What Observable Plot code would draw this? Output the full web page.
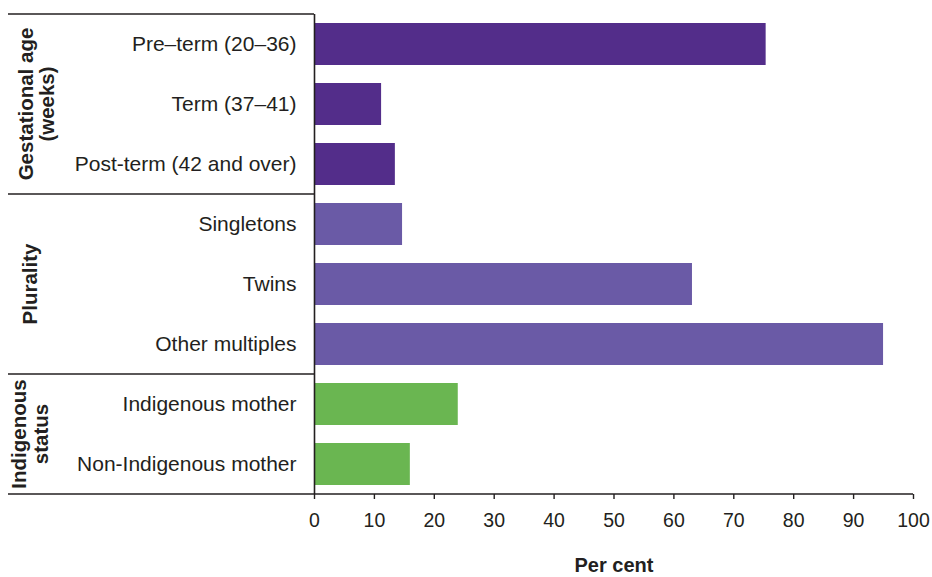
<!DOCTYPE html>
<html>
<head>
<meta charset="utf-8">
<script src="https://cdn.jsdelivr.net/npm/d3@7"></script>
<script src="https://cdn.jsdelivr.net/npm/@observablehq/plot@0.6"></script>
<style>
  html, body { margin: 0; padding: 0; background: #ffffff; }
  #chart svg { display: block; }
</style>
</head>
<body>
<div id="chart"></div>
<script>
// ---- Data ----
const categories = [
  "Pre–term (20–36)",
  "Term (37–41)",
  "Post-term (42 and over)",
  "Singletons",
  "Twins",
  "Other multiples",
  "Indigenous mother",
  "Non-Indigenous mother"
];
const values = [75.4, 11.2, 13.5, 14.7, 63.1, 95.0, 24.0, 16.0];
const categoryGroup = [
  "Gestational age (weeks)", "Gestational age (weeks)", "Gestational age (weeks)",
  "Plurality", "Plurality", "Plurality",
  "Indigenous status", "Indigenous status"
];
const groupNames = ["Gestational age (weeks)", "Plurality", "Indigenous status"];
const groupLabelLines = [["Gestational age", "(weeks)"], ["Plurality"], ["Indigenous", "status"]];
const groupColors = ["#532D8A", "#6A5AA6", "#6AB651"];
const xTicks = [0, 10, 20, 30, 40, 50, 60, 70, 80, 90, 100];
const xLabel = "Per cent";

const data = categories.map((c, i) => ({category: c, value: values[i], group: categoryGroup[i]}));

const ink = "#231f20";
const font = "'Liberation Sans', Arial, Helvetica, sans-serif";

const plot = Plot.plot({
  width: 932,
  height: 577,
  marginLeft: 314,
  marginRight: 19,
  marginTop: 14,
  marginBottom: 83,
  style: {fontFamily: font, color: ink, background: "#ffffff", overflow: "visible"},
  x: {domain: [0, 100], label: null},
  y: {domain: categories, paddingInner: 0.3, paddingOuter: 0.15, label: null},
  color: {domain: groupNames, range: groupColors},
  marks: [
    Plot.barX(data, {x: "value", y: "category", fill: "group"}),
    Plot.ruleX([0], {stroke: ink, strokeWidth: 1.6}),
    Plot.axisX({ticks: xTicks, tickSize: 5, tickPadding: 14, fontSize: 19.5, stroke: ink, strokeWidth: 1.4, label: null}),
    Plot.axisY({tickSize: 0, tickPadding: 18, fontSize: 21, label: null}),
    Plot.text([xLabel], {frameAnchor: "bottom", lineAnchor: "middle", dy: 71, fontSize: 20, fontWeight: "bold", fill: ink})
  ]
});

document.getElementById("chart").appendChild(plot);

// ---- Group dividers and labels, positioned with the plot's own scales ----
const ys = plot.scale("y");
const xs = plot.scale("x");
const n = ys.domain.length;
const step = ys.step ?? (ys.range[1] - ys.range[0]) / (n - ys.paddingInner + 2 * ys.paddingOuter);
const bw = ys.bandwidth ?? step * (1 - ys.paddingInner);
const gap = (step - bw) / 2;
const svg = d3.select(plot);
const g = svg.append("g");
const leftEdge = 8;
const axisX0 = xs.apply(0);
const labelCenters = [[26, 47], [30], [19, 41]];

groupNames.forEach((name, gi) => {
  const cats = categories.filter((c, i) => categoryGroup[i] === name);
  const top = ys.apply(cats[0]) - gap;
  const bottom = ys.apply(cats[cats.length - 1]) + bw + gap;
  g.append("line")
    .attr("x1", leftEdge).attr("x2", axisX0)
    .attr("y1", top).attr("y2", top)
    .attr("stroke", ink).attr("stroke-width", 1.6);
  if (gi === groupNames.length - 1) {
    g.append("line")
      .attr("x1", leftEdge).attr("x2", xs.apply(100))
      .attr("y1", bottom).attr("y2", bottom)
      .attr("stroke", ink).attr("stroke-width", 1.6);
  }
  const mid = (top + bottom) / 2;
  groupLabelLines[gi].forEach((line, li) => {
    const cx = labelCenters[gi][li];
    g.append("text")
      .attr("transform", `translate(${cx},${mid}) rotate(-90)`)
      .attr("text-anchor", "middle")
      .attr("dy", "0.35em")
      .attr("font-family", font)
      .attr("font-size", 20.5)
      .attr("font-weight", "bold")
      .attr("fill", ink)
      .text(line);
  });
});
</script>
</body>
</html>
